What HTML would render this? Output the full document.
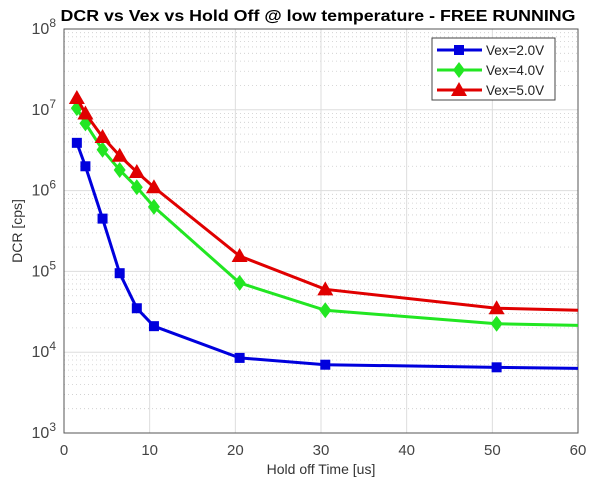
<!DOCTYPE html>
<html><head><meta charset="utf-8"><style>
body{margin:0;background:#fff;}
svg{font-family:"Liberation Sans",sans-serif;}
</style></head><body>
<svg id="chart" width="600" height="498" viewBox="0 0 600 498">
<rect width="600" height="498" fill="#fff"/>
<text x="318" y="21" text-anchor="middle" font-size="15.5" font-weight="bold" textLength="515" lengthAdjust="spacingAndGlyphs">DCR vs Vex vs Hold Off @ low temperature - FREE RUNNING</text>
<g id="grid"></g>
<g id="axes"></g>
<g id="series"></g>
<text x="321" y="474" text-anchor="middle" font-size="14" fill="#333">Hold off Time [us]</text>
<text transform="translate(22,231) rotate(-90)" text-anchor="middle" font-size="14" fill="#333">DCR [cps]</text>
<g id="legend"></g>
</svg>
<script>
const xVals=[1.5,2.5,4.5,6.5,8.5,10.5,20.5,30.5,50.5,60];
const blueVals=[3.9e6,2.0e6,4.5e5,9.5e4,3.5e4,2.1e4,8.5e3,7.0e3,6.5e3,6.3e3];
const greenVals=[1.05e7,6.8e6,3.2e6,1.8e6,1.1e6,6.3e5,7.2e4,3.3e4,2.25e4,2.15e4];
const redVals=[1.4e7,9.0e6,4.6e6,2.7e6,1.7e6,1.1e6,1.55e5,6.0e4,3.5e4,3.3e4];
const seriesNames=["Vex=2.0V","Vex=4.0V","Vex=5.0V"];
const xTicks=[0,10,20,30,40,50,60];
const yTickExp=[3,4,5,6,7,8];

const L=64,R=578,T=29,B=433;
const NS="http://www.w3.org/2000/svg";
function X(v){return L+(v-0)/(60-0)*(R-L);}
function Y(v){return B-(Math.log10(v)-3)/5*(B-T);}
function el(t,a,p){const e=document.createElementNS(NS,t);for(const k in a)e.setAttribute(k,a[k]);p.appendChild(e);return e;}
const grid=document.getElementById('grid'),axes=document.getElementById('axes'),ser=document.getElementById('series'),leg=document.getElementById('legend');
el('rect',{x:L,y:T,width:R-L,height:B-T,fill:'#fff'},grid);
for(let e=3;e<8;e++)for(let m=2;m<10;m++){const y=Y(m*Math.pow(10,e));
 const g=el('line',{x1:L,x2:R,y1:y,y2:y,stroke:'#ccc','stroke-width':0.8,'stroke-dasharray':'1,3'},grid);
 
 }
yTickExp.forEach(e=>{const y=Y(Math.pow(10,e));
 const g=el('line',{x1:L,x2:R,y1:y,y2:y,stroke:'#ddd','stroke-width':1},grid);
 
 
 const t=el('text',{x:L-8,y:y+5,'text-anchor':'end','font-size':16,fill:'#444'},axes);
 
 
 t.innerHTML='10<tspan dy="-7" font-size="12">'+e+'</tspan>';});
xTicks.forEach(v=>{const x=X(v);
 const g=el('line',{x1:x,x2:x,y1:T,y2:B,stroke:'#ddd','stroke-width':1},grid);
 
 
 const t=el('text',{x:x,y:B+22,'text-anchor':'middle','font-size':15,fill:'#444'},axes);
 
 
 t.textContent=v;});
const fr=el('rect',{x:L,y:T,width:R-L,height:B-T,fill:'none',stroke:'#555','stroke-width':1},axes);


function marker(type,x,y,c,p){
 if(type==='s')return el('rect',{x:x-5,y:y-5,width:10,height:10,fill:c},p);
 if(type==='d')return el('polygon',{points:`${x},${y-8} ${x+6},${y} ${x},${y+8} ${x-6},${y}`,fill:c},p);
 return el('polygon',{points:`${x},${y-8} ${x+8},${y+6} ${x-8},${y+6}`,fill:c},p);}
const defs=[[blueVals,'#0000dd','s','series-vex-2v'],[greenVals,'#22e622','d','series-vex-4v'],[redVals,'#e00000','t','series-vex-5v']];
defs.forEach(([vals,c,m,name])=>{
 const g=el('g',{},ser);
 
 
 const pl=el('polyline',{points:vals.map((v,i)=>X(xVals[i])+','+Y(v)).join(' '),fill:'none',stroke:c,'stroke-width':3},g);
 
 
 vals.forEach((v,i)=>{if(i===vals.length-1)return;
  const mk=marker(m,X(xVals[i]),Y(v),c,g);
  
  });
});
const lb=el('rect',{x:432,y:38,width:123,height:62,fill:'#fff',stroke:'#444','stroke-width':1},leg);


defs.forEach(([v,c,m],i)=>{const y=50+i*20;
 const g=el('g',{},leg);
 
 
 el('line',{x1:437,x2:482,y1:y,y2:y,stroke:c,'stroke-width':3},g);
 marker(m,459,y,c,g);
 const t=el('text',{x:486,y:y+5,'font-size':13.5,fill:'#222'},g);
 t.textContent=seriesNames[i];});
</script>
</body></html>
